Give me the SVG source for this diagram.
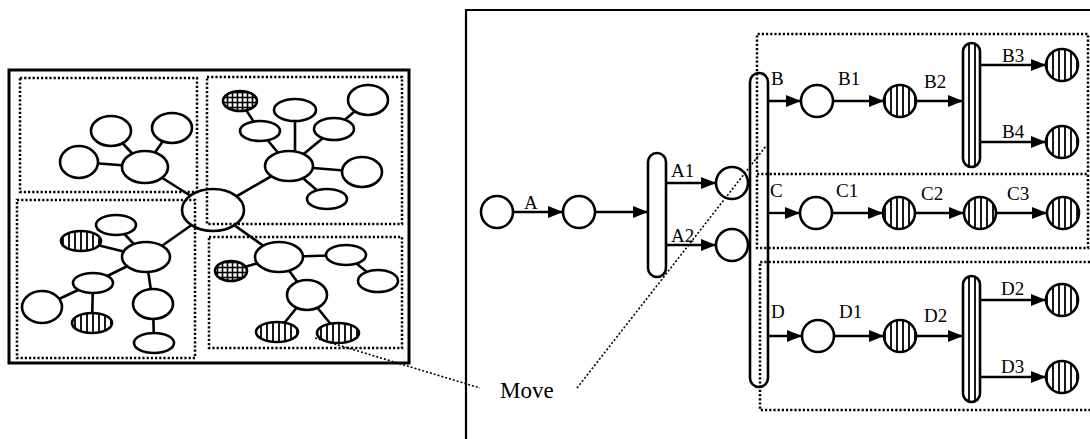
<svg xmlns="http://www.w3.org/2000/svg" width="1090" height="439" viewBox="0 0 1090 439">
  <style>
    .ln { stroke: #000; stroke-width: 2.6; fill: none; }
    .nd { stroke: #000; stroke-width: 2.6; fill: #fff; }
    .vh { stroke: #000; stroke-width: 2.6; fill: url(#vhatch); }
    .gh { stroke: #000; stroke-width: 2.6; fill: url(#ghatch); }
    .box { stroke: #000; stroke-width: 2.5; fill: none; stroke-dasharray: 2.2 2; }
    .lead { stroke: #000; stroke-width: 1.6; fill: none; stroke-dasharray: 2 2; }
    .arr { stroke: #000; stroke-width: 2.4; fill: none; marker-end: url(#ah); }
    .lbl { font-family: "Liberation Serif", "Times New Roman", serif; font-size: 19px; fill: #000; }
    .move { font-family: "Liberation Serif", "Times New Roman", serif; font-size: 23px; fill: #000; }
  </style>
  <defs>
    <pattern id="vhatch" patternUnits="userSpaceOnUse" width="6" height="6">
      <rect width="6" height="6" fill="#fff"/>
      <line x1="3" y1="0" x2="3" y2="6" stroke="#000" stroke-width="1.8"/>
    </pattern>
    <pattern id="ghatch" patternUnits="userSpaceOnUse" width="5" height="5">
      <rect width="5" height="5" fill="#fff"/>
      <line x1="2.5" y1="0" x2="2.5" y2="5" stroke="#000" stroke-width="1.6"/>
      <line x1="0" y1="2.5" x2="5" y2="2.5" stroke="#000" stroke-width="1.6"/>
    </pattern>
    <marker id="ah" viewBox="0 0 15 12" refX="15" refY="6" markerWidth="15" markerHeight="12" markerUnits="userSpaceOnUse" orient="auto">
      <path d="M0,0 L15,6 L0,12 z" fill="#000"/>
    </marker>
  </defs>

  <rect width="1090" height="439" fill="#fff"/>

  <!-- ===== Left panel: network overview ===== -->
  <rect x="9" y="70" width="400" height="293" fill="none" stroke="#000" stroke-width="3"/>

  <g id="net-links" class="ln">
    <!-- centre to cluster hubs -->
    <line x1="145" y1="167" x2="213" y2="210"/>
    <line x1="289" y1="166" x2="213" y2="210"/>
    <line x1="146" y1="257" x2="213" y2="210"/>
    <line x1="279" y1="257" x2="213" y2="210"/>
    <!-- top-left cluster -->
    <line x1="145" y1="167" x2="111" y2="131"/>
    <line x1="145" y1="167" x2="172" y2="128"/>
    <line x1="145" y1="167" x2="79" y2="162"/>
    <!-- top-right cluster -->
    <line x1="240" y1="101" x2="260" y2="131"/>
    <line x1="260" y1="131" x2="289" y2="166"/>
    <line x1="295" y1="110" x2="295" y2="166"/>
    <line x1="334" y1="129" x2="289" y2="166"/>
    <line x1="368" y1="100" x2="334" y2="129"/>
    <line x1="289" y1="166" x2="362" y2="172"/>
    <line x1="289" y1="166" x2="327" y2="199"/>
    <!-- bottom-left cluster -->
    <line x1="146" y1="257" x2="116" y2="225"/>
    <line x1="146" y1="257" x2="81" y2="241"/>
    <line x1="146" y1="257" x2="93" y2="283"/>
    <line x1="93" y1="283" x2="42" y2="307"/>
    <line x1="93" y1="283" x2="92" y2="323"/>
    <line x1="146" y1="257" x2="153" y2="304"/>
    <line x1="153" y1="304" x2="154" y2="343"/>
    <!-- bottom-right cluster -->
    <line x1="279" y1="257" x2="231" y2="271"/>
    <line x1="279" y1="257" x2="346" y2="255"/>
    <line x1="346" y1="255" x2="378" y2="281"/>
    <line x1="279" y1="257" x2="307" y2="295"/>
    <line x1="307" y1="295" x2="277" y2="332"/>
    <line x1="307" y1="295" x2="338" y2="333"/>
  </g>

  <g id="net-centre"><ellipse class="nd" cx="213" cy="210" rx="31" ry="21"/></g>

  <g id="tl-hub"><ellipse class="nd" cx="145" cy="167" rx="23" ry="16"/></g>
  <g id="tl-n1"><ellipse class="nd" cx="111" cy="131" rx="20" ry="15"/></g>
  <g id="tl-n2"><ellipse class="nd" cx="172" cy="128" rx="20" ry="15"/></g>
  <g id="tl-n3"><ellipse class="nd" cx="79" cy="162" rx="19" ry="16"/></g>

  <g id="tr-hub"><ellipse class="nd" cx="289" cy="166" rx="24" ry="15"/></g>
  <g id="tr-n1"><ellipse class="gh" cx="240" cy="101" rx="17" ry="10"/></g>
  <g id="tr-n2"><ellipse class="nd" cx="260" cy="131" rx="20" ry="10"/></g>
  <g id="tr-n3"><ellipse class="nd" cx="295" cy="110" rx="21" ry="11"/></g>
  <g id="tr-n4"><ellipse class="nd" cx="334" cy="129" rx="20" ry="11"/></g>
  <g id="tr-n5"><ellipse class="nd" cx="368" cy="100" rx="20" ry="15"/></g>
  <g id="tr-n6"><ellipse class="nd" cx="362" cy="172" rx="20" ry="15"/></g>
  <g id="tr-n7"><ellipse class="nd" cx="327" cy="199" rx="20" ry="10"/></g>

  <g id="bl-hub"><ellipse class="nd" cx="146" cy="257" rx="24" ry="15"/></g>
  <g id="bl-n1"><ellipse class="nd" cx="116" cy="225" rx="20" ry="10"/></g>
  <g id="bl-n2"><ellipse class="vh" cx="81" cy="241" rx="20" ry="10"/></g>
  <g id="bl-n3"><ellipse class="nd" cx="93" cy="283" rx="20" ry="10"/></g>
  <g id="bl-n4"><ellipse class="nd" cx="42" cy="307" rx="20" ry="16"/></g>
  <g id="bl-n5"><ellipse class="vh" cx="92" cy="323" rx="20" ry="10"/></g>
  <g id="bl-n6"><ellipse class="nd" cx="153" cy="304" rx="20" ry="15"/></g>
  <g id="bl-n7"><ellipse class="nd" cx="154" cy="343" rx="20" ry="10"/></g>

  <g id="br-hub"><ellipse class="nd" cx="279" cy="257" rx="24" ry="15"/></g>
  <g id="br-n1"><ellipse class="gh" cx="231" cy="271" rx="16" ry="10"/></g>
  <g id="br-n2"><ellipse class="nd" cx="346" cy="255" rx="20" ry="10"/></g>
  <g id="br-n3"><ellipse class="nd" cx="378" cy="281" rx="20" ry="11"/></g>
  <g id="br-n4"><ellipse class="nd" cx="307" cy="295" rx="20" ry="15"/></g>
  <g id="br-n5"><ellipse class="vh" cx="277" cy="332" rx="21" ry="10"/></g>
  <g id="br-n6"><ellipse class="vh" cx="338" cy="333" rx="21" ry="10"/></g>

  <!-- cluster outlines -->
  <g id="net-clusters">
    <rect class="box" x="20" y="78" width="177" height="114"/>
    <rect class="box" x="207" y="77" width="195" height="147"/>
    <rect class="box" x="17" y="200" width="178" height="158"/>
    <rect class="box" x="209" y="237" width="193" height="111"/>
  </g>

  <!-- ===== Right panel: process flow ===== -->
  <path d="M466,439 L466,10 L1090,10" fill="none" stroke="#000" stroke-width="2.2"/>

  <g id="flow-links">
    <line class="arr" x1="513" y1="212" x2="563" y2="212"/>
    <line class="arr" x1="595" y1="212" x2="648" y2="212"/>
    <line class="arr" x1="666" y1="183" x2="716" y2="183"/>
    <line class="arr" x1="666" y1="245" x2="716" y2="245"/>
    <!-- B branch -->
    <line class="arr" x1="768" y1="101" x2="801" y2="101"/>
    <line class="arr" x1="833" y1="101" x2="884" y2="101"/>
    <line class="arr" x1="916" y1="101" x2="963" y2="101"/>
    <line class="arr" x1="980" y1="65" x2="1046" y2="65"/>
    <line class="arr" x1="980" y1="142" x2="1046" y2="142"/>
    <!-- C branch -->
    <line class="arr" x1="768" y1="213" x2="800" y2="213"/>
    <line class="arr" x1="832" y1="213" x2="883" y2="213"/>
    <line class="arr" x1="915" y1="213" x2="964" y2="213"/>
    <line class="arr" x1="996" y1="213" x2="1047" y2="213"/>
    <!-- D branch -->
    <line class="arr" x1="768" y1="336" x2="802" y2="336"/>
    <line class="arr" x1="834" y1="336" x2="884" y2="336"/>
    <line class="arr" x1="916" y1="336" x2="963" y2="336"/>
    <line class="arr" x1="980" y1="300" x2="1046" y2="300"/>
    <line class="arr" x1="980" y1="377" x2="1046" y2="377"/>
  </g>

  <g id="s0"><circle class="nd" cx="497" cy="212" r="16"/></g>
  <g id="s1"><circle class="nd" cx="579" cy="212" r="16"/></g>
  <g id="fork1"><rect class="nd" x="648" y="153" width="18" height="124" rx="9"/></g>
  <g id="sA1"><circle class="nd" cx="732" cy="183" r="16"/></g>
  <g id="sA2"><circle class="nd" cx="732" cy="245" r="16"/></g>
  <g id="fork2"><rect class="nd" x="750" y="73" width="18" height="314" rx="9"/></g>

  <g id="sB"><circle class="nd" cx="817" cy="101" r="16"/></g>
  <g id="sB1"><circle class="vh" cx="900" cy="101" r="16"/></g>
  <g id="forkB"><rect class="vh" x="963" y="43" width="17" height="124" rx="8.5"/></g>
  <g id="sB3"><circle class="vh" cx="1062" cy="65" r="16"/></g>
  <g id="sB4"><circle class="vh" cx="1062" cy="142" r="16"/></g>

  <g id="sC"><circle class="nd" cx="816" cy="213" r="16"/></g>
  <g id="sC1"><circle class="vh" cx="899" cy="213" r="16"/></g>
  <g id="sC2"><circle class="vh" cx="980" cy="213" r="16"/></g>
  <g id="sC3"><circle class="vh" cx="1063" cy="213" r="16"/></g>

  <g id="sD"><circle class="nd" cx="818" cy="336" r="16"/></g>
  <g id="sD1"><circle class="vh" cx="900" cy="336" r="16"/></g>
  <g id="forkD"><rect class="vh" x="963" y="276" width="17" height="126" rx="8.5"/></g>
  <g id="sD2"><circle class="vh" cx="1062" cy="300" r="16"/></g>
  <g id="sD3"><circle class="vh" cx="1062" cy="377" r="16"/></g>

  <g id="flow-labels" class="lbl">
    <text x="524" y="209">A</text>
    <text x="671" y="177">A1</text>
    <text x="671" y="242">A2</text>
    <text x="771" y="85">B</text>
    <text x="838" y="85">B1</text>
    <text x="924" y="88">B2</text>
    <text x="1002" y="62">B3</text>
    <text x="1002" y="138">B4</text>
    <text x="770" y="197">C</text>
    <text x="836" y="197">C1</text>
    <text x="921" y="200">C2</text>
    <text x="1007" y="200">C3</text>
    <text x="771" y="318">D</text>
    <text x="839" y="318">D1</text>
    <text x="924" y="322">D2</text>
    <text x="1001" y="295">D2</text>
    <text x="1001" y="373">D3</text>
  </g>

  <!-- branch groupings -->
  <g id="flow-groups">
    <path class="box" d="M1088,172 L1088,34 L757,34 L757,172"/>
    <path class="box" d="M757,174 L1088,174 L1088,248 L757,248 Z"/>
    <path class="box" d="M1090,262 L760,262 L760,410 L1090,410"/>
  </g>

  <!-- move callout -->
  <g id="move">
    <line class="lead" x1="315" y1="338" x2="480" y2="388"/>
    <line class="lead" x1="577" y1="388" x2="766" y2="146"/>
    <text class="move" x="500" y="398">Move</text>
  </g>
</svg>
